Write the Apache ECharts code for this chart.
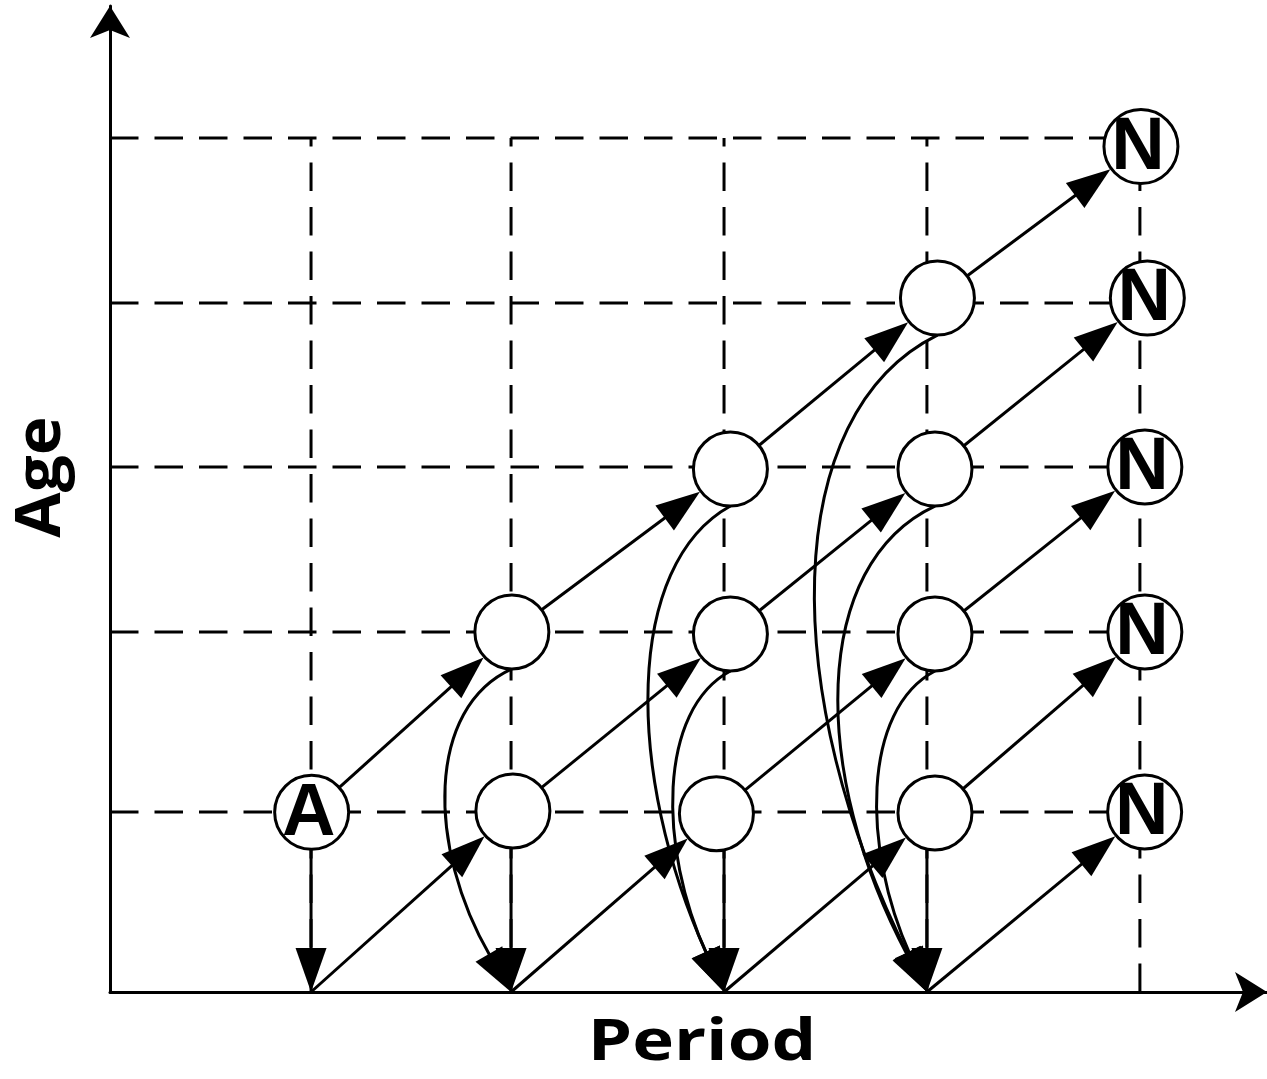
<!DOCTYPE html>
<html>
<head>
<meta charset="utf-8">
<script src="https://cdn.jsdelivr.net/npm/echarts@6/dist/echarts.min.js"></script>
<style>html,body{margin:0;padding:0;background:#fff}#c{width:1267px;height:1079px}</style>
</head>
<body>
<div id="c"></div>
<script>
// ---- Data (period / age units) ----
const periodLines = [0.976, 1.947, 2.981, 3.966, 5.0];   // vertical dashed guides
const ageLines = [1.054, 2.108, 3.074, 4.034, 5.0];      // horizontal dashed guides

const nodeIds    = ['A','c2a1','c2a2','c3a1','c3a2','c3a3','c4a1','c4a2','c4a3','c4a4','N1','N2','N3','N4','N5'];
const nodePeriod = [0.979, 1.956, 1.951, 2.944, 3.012, 3.012, 4.005, 4.005, 4.005, 4.017, 5.023, 5.024, 5.024, 5.036, 5.005];
const nodeAge    = [1.052, 1.060, 2.108, 1.044, 2.096, 3.062, 1.048, 2.096, 3.062, 4.063, 1.054, 2.108, 3.074, 4.063, 4.950];
const nodeLabels = ['A','','','','','','','','','','N','N','N','N','N'];

const axisIds    = ['x1','x2','x3','x4'];
const axisPeriod = [0.976, 1.947, 2.981, 3.966];

const arrowFrom = ['A','c2a1','c2a2','c3a1','c3a2','c3a3','c4a1','c4a2','c4a3','c4a4','x1','x2','x3','x4','A','c2a1','c3a1','c4a1'];
const arrowTo   = ['c2a2','c3a2','c3a3','c4a2','c4a3','c4a4','N2','N3','N4','N5','c2a1','c3a1','c4a1','N1','x1','x2','x3','x4'];

const curveFrom     = ['c2a2','c3a2','c3a3','c4a2','c4a3','c4a4'];
const curveTo       = ['x2','x3','x3','x4','x4','x4'];
const curveLeftmost = [1.626, 2.733, 2.612, 3.723, 3.534, 3.420];

const xTitle = 'Period';
const yTitle = 'Age';

// ---- Build ----
const pos = {};
nodeIds.forEach((id, i) => pos[id] = [nodePeriod[i], nodeAge[i], 1]);
axisIds.forEach((id, i) => pos[id] = [axisPeriod[i], 0, 0]);

const gridData = [];
ageLines.forEach(a => gridData.push([0, a, periodLines[periodLines.length - 1], a]));
periodLines.forEach(p => gridData.push([p, 0, p, ageLines[ageLines.length - 1]]));

const arrowData = arrowFrom.map((f, i) => {
  const a = pos[f], b = pos[arrowTo[i]];
  return [a[0], a[1], b[0], b[1], b[2]];
});
const curveData = curveFrom.map((f, i) => {
  const a = pos[f], b = pos[curveTo[i]];
  return [a[0], a[1], b[0], b[1], curveLeftmost[i]];
});
const nodeData = nodeIds.map((id, i) => [nodePeriod[i], nodeAge[i], nodeLabels[i]]);

const R = 38;      // node outer radius in px
const L = 44;      // arrowhead length
const W = 15.5;    // arrowhead half width
const LW = 3;

function head(tip, dx, dy) {
  const base = [tip[0] - dx * L, tip[1] - dy * L];
  return {
    base,
    poly: {
      type: 'polygon',
      shape: { points: [tip, [base[0] - dy * W, base[1] + dx * W], [base[0] + dy * W, base[1] - dx * W]] },
      style: { fill: '#000', stroke: null }
    }
  };
}

function renderGrid(params, api) {
  const p0 = api.coord([api.value(0), api.value(1)]);
  const p1 = api.coord([api.value(2), api.value(3)]);
  return {
    type: 'line',
    shape: { x1: p0[0], y1: p0[1], x2: p1[0], y2: p1[1] },
    style: { stroke: '#000', lineWidth: LW, lineDash: [28.5, 16] }
  };
}

function renderArrow(params, api) {
  const p0 = api.coord([api.value(0), api.value(1)]);
  const p1 = api.coord([api.value(2), api.value(3)]);
  const toNode = api.value(4) === 1;
  const s = p0.slice();
  if (!toNode) s[0] = p1[0];
  let dx = p1[0] - s[0], dy = p1[1] - s[1];
  const len = Math.hypot(dx, dy); dx /= len; dy /= len;
  const tip = toNode ? [p1[0] - dx * R, p1[1] - dy * R] : p1;
  const h = head(tip, dx, dy);
  return {
    type: 'group',
    children: [
      { type: 'line', shape: { x1: s[0], y1: s[1], x2: h.base[0] + dx * 3, y2: h.base[1] + dy * 3 },
        style: { stroke: '#000', lineWidth: LW } },
      h.poly
    ]
  };
}

function renderCurve(params, api) {
  const p0 = api.coord([api.value(0), api.value(1)]);
  p0[1] += R - 1;
  const T = api.coord([api.value(2), api.value(3)]);
  const xL = api.coord([api.value(4), 0])[0];
  const H = T[1] - p0[1];
  const c1y = p0[1] + 0.12 * H, c2y = p0[1] + 0.55 * H;
  let c = (xL - 0.125 * (p0[0] + T[0])) / 0.75;
  let dx, dy, P3;
  for (let k = 0; k < 3; k++) {
    dx = T[0] - c; dy = T[1] - c2y;
    const len = Math.hypot(dx, dy); dx /= len; dy /= len;
    P3 = [T[0] - dx * L, T[1] - dy * L];
    c = (xL - 0.125 * (p0[0] + P3[0])) / 0.75;
  }
  const h = head(T, dx, dy);
  return {
    type: 'group',
    children: [
      { type: 'bezierCurve',
        shape: { x1: p0[0], y1: p0[1], x2: h.base[0] + dx * 3, y2: h.base[1] + dy * 3, cpx1: c, cpy1: c1y, cpx2: c, cpy2: c2y },
        style: { stroke: '#000', lineWidth: LW, fill: 'none' } },
      h.poly
    ]
  };
}

const chart = echarts.init(document.getElementById('c'), null, { renderer: 'canvas' });
chart.setOption({
  animation: false,
  backgroundColor: '#fff',
  grid: { left: 110, right: 0, top: 6, bottom: 87, containLabel: false },
  xAxis: {
    type: 'value', min: 0, max: 5.617,
    axisLine: { show: true, symbol: ['none', 'arrow'], symbolSize: [30, 32], lineStyle: { color: '#000', width: 3 } },
    axisTick: { show: false }, axisLabel: { show: false }, splitLine: { show: false }
  },
  yAxis: {
    type: 'value', min: 0, max: 5.773,
    axisLine: { show: true, symbol: ['none', 'arrow'], symbolSize: [30, 32], lineStyle: { color: '#000', width: 3 } },
    axisTick: { show: false }, axisLabel: { show: false }, splitLine: { show: false }
  },
  graphic: [
    { type: 'text', x: 702, y: 1043, scaleX: 1.22, z: 10,
      style: { text: xTitle, fontFamily: 'Open Sans', fontSize: 58, fontWeight: 'bold', fill: '#000', textAlign: 'center', textVerticalAlign: 'middle' } },
    { type: 'text', x: 42, y: 477, rotation: Math.PI / 2, scaleX: 1.06, z: 10,
      style: { text: yTitle, fontFamily: 'Open Sans', fontSize: 62, fontWeight: 'bold', fill: '#000', textAlign: 'center', textVerticalAlign: 'middle' } }
  ],
  series: [
    { type: 'custom', name: 'guides', silent: true, z: 1, data: gridData, renderItem: renderGrid,
      encode: { x: [0, 2], y: [1, 3] } },
    { type: 'custom', name: 'arrows', silent: true, z: 2, data: arrowData, renderItem: renderArrow,
      encode: { x: [0, 2], y: [1, 3] } },
    { type: 'custom', name: 'curves', silent: true, z: 2, data: curveData, renderItem: renderCurve,
      encode: { x: [0, 2], y: [1, 3] } },
    { type: 'scatter', name: 'nodes', silent: true, z: 5, data: nodeData,
      symbol: 'circle', symbolSize: 74,
      itemStyle: { color: '#fff', borderColor: '#000', borderWidth: 3, opacity: 1 },
      label: { show: true, position: 'inside', formatter: p => p.value[2], color: '#000',
        fontSize: 74, fontWeight: 'bold', fontFamily: 'Liberation Sans', offset: [-3, 2] },
      emphasis: { disabled: true } }
  ]
});
</script>
</body>
</html>
